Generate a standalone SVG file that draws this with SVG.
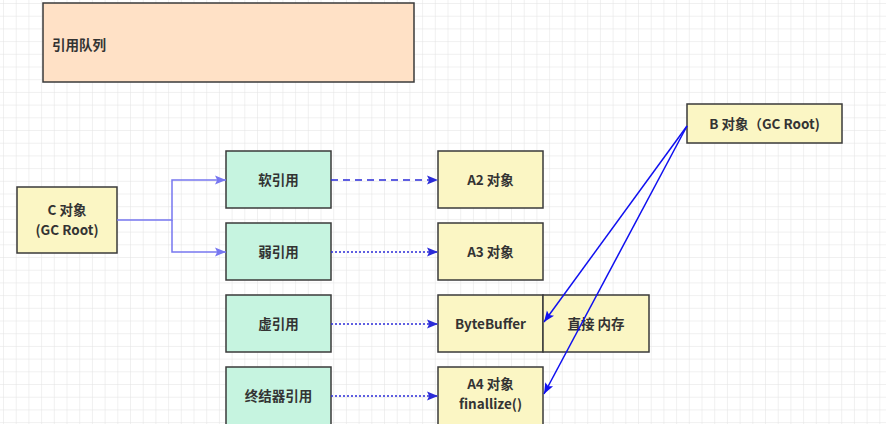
<svg xmlns="http://www.w3.org/2000/svg" width="886" height="424" viewBox="0 0 886 424">
<defs>
<pattern id="grid" width="12.7" height="12.7" patternUnits="userSpaceOnUse" x="4" y="4">
<path d="M12.7 0V12.7H0" fill="none" stroke="#e2e2e2" stroke-width="1"/>
</pattern>
<marker id="ahP" viewBox="0 0 10 10" refX="10" refY="5" markerWidth="11" markerHeight="11" markerUnits="userSpaceOnUse" orient="auto"><path d="M0 1L10 5L0 9L2 5Z" fill="#7777f0"/></marker>
<marker id="ahD" viewBox="0 0 10 10" refX="10" refY="5" markerWidth="11" markerHeight="11" markerUnits="userSpaceOnUse" orient="auto"><path d="M0 1L10 5L0 9L2 5Z" fill="#2b2bd8"/></marker>
<marker id="ahB" viewBox="0 0 10 10" refX="10" refY="5" markerWidth="11" markerHeight="11" markerUnits="userSpaceOnUse" orient="auto"><path d="M0 1L10 5L0 9L2 5Z" fill="#1010f0"/></marker>
</defs>
<style>
.box{stroke:#3a3a3a;stroke-width:1.5}
.peach{fill:#ffe1c6}
.yel{fill:#fbf6c4}
.grn{fill:#c6f4e0}
text{font-family:"Noto Sans CJK SC","Noto Sans",sans-serif;font-weight:bold;font-size:13.5px;fill:#333;text-anchor:middle}
</style>
<rect width="886" height="424" fill="#fff"/>
<rect width="886" height="424" fill="url(#grid)"/>
<g id="queue"><rect class="box peach" x="43" y="3" width="371" height="79"/><text x="52" y="50" style="text-anchor:start">引用队列</text></g>
<g id="c"><rect class="box yel" x="17" y="187" width="100" height="66"/><text x="67" y="215">C 对象</text><text x="67" y="235">(GC Root)</text></g>
<g id="soft"><rect class="box grn" x="226" y="151" width="105" height="57"/><text x="278.5" y="185">软引用</text></g>
<g id="weak"><rect class="box grn" x="226" y="223" width="105" height="57"/><text x="278.5" y="257">弱引用</text></g>
<g id="phantom"><rect class="box grn" x="226" y="295" width="105" height="57"/><text x="278.5" y="329">虚引用</text></g>
<g id="final"><rect class="box grn" x="226" y="367" width="105" height="60"/><text x="278.5" y="401">终结器引用</text></g>
<g id="a2"><rect class="box yel" x="438" y="151" width="105" height="57"/><text x="490.5" y="185">A2 对象</text></g>
<g id="a3"><rect class="box yel" x="438" y="223" width="105" height="57"/><text x="490.5" y="257">A3 对象</text></g>
<g id="bb"><rect class="box yel" x="438" y="295" width="105" height="57"/><text x="490.5" y="329">ByteBuffer</text></g>
<g id="mem"><rect class="box yel" x="543" y="295" width="106" height="57"/><text x="596" y="329">直接 内存</text></g>
<g id="a4"><rect class="box yel" x="438" y="367" width="105" height="60"/><text x="490.5" y="389">A4 对象</text><text x="490.5" y="409">finallize()</text></g>
<g id="b"><rect class="box yel" x="687" y="104" width="155" height="39"/><text x="764.5" y="129">B 对象（GC Root)</text></g>
<g id="connectors">
<path d="M117 220H172V180H226" stroke="#7777f0" stroke-width="1.5" fill="none" marker-end="url(#ahP)"/>
<path d="M172 220V252H226" stroke="#7777f0" stroke-width="1.5" fill="none" marker-end="url(#ahP)"/>
<path d="M331 180H438" stroke="#2b2bd8" stroke-width="1.5" stroke-dasharray="7 5" fill="none" marker-end="url(#ahD)"/>
<path d="M331 252H438" stroke="#2b2bd8" stroke-width="1.5" stroke-dasharray="2 2" fill="none" marker-end="url(#ahD)"/>
<path d="M331 324H438" stroke="#2b2bd8" stroke-width="1.5" stroke-dasharray="2 2" fill="none" marker-end="url(#ahD)"/>
<path d="M331 396H438" stroke="#2b2bd8" stroke-width="1.5" stroke-dasharray="2 2" fill="none" marker-end="url(#ahD)"/>
<path d="M687 126L544 322" stroke="#1010f0" stroke-width="1.5" fill="none" marker-end="url(#ahB)"/>
<path d="M687 126L544 394" stroke="#1010f0" stroke-width="1.5" fill="none" marker-end="url(#ahB)"/>
</g>
</svg>
